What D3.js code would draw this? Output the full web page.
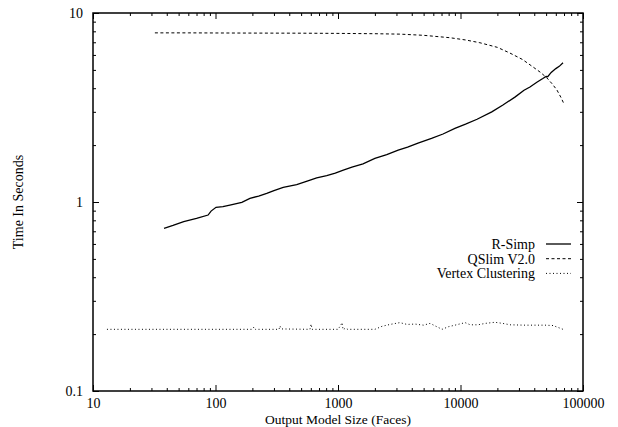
<!DOCTYPE html>
<html><head><meta charset="utf-8">
<script src="https://cdn.jsdelivr.net/npm/d3@7"></script>
<style>body{margin:0;background:#fff}svg{display:block}text{font-family:"Liberation Serif","Times New Roman",serif;}</style>
</head><body><svg id="c" width="618" height="427"></svg>
<script>
const xTicks = [10, 100, 1000, 10000, 100000];
const yTicks = [0.1, 1, 10];
const yTickLabels = ["0.1", "1", "10"];
const seriesNames = ["R-Simp", "QSlim V2.0", "Vertex Clustering"];

const rsimpX = [38, 45, 55, 70, 87, 92, 101, 115, 131, 164, 191, 225, 262, 300, 357, 460, 560, 670, 809, 950, 1105, 1300, 1600, 2000, 2500, 3100, 3700, 4500, 5800, 7200, 9000, 11000, 13650, 18000, 22200, 28000, 33000, 36900, 42000, 47000, 50000, 51500, 55000, 60000, 64000, 68700];
const rsimpY = [0.726, 0.752, 0.787, 0.818, 0.853, 0.895, 0.937, 0.945, 0.964, 0.996, 1.046, 1.075, 1.11, 1.15, 1.196, 1.235, 1.29, 1.34, 1.377, 1.42, 1.476, 1.53, 1.59, 1.70, 1.78, 1.88, 1.95, 2.05, 2.17, 2.29, 2.45, 2.58, 2.74, 3.0, 3.26, 3.6, 3.9, 4.06, 4.3, 4.5, 4.62, 4.6, 4.85, 5.08, 5.22, 5.45];

const qslimX = [32, 60, 100, 200, 490, 1000, 2000, 3200, 5000, 8200, 11000, 14400, 20000, 25300, 32000, 39100, 45000, 50800, 56000, 61300, 66000, 70000];
const qslimY = [7.85, 7.85, 7.84, 7.83, 7.82, 7.80, 7.77, 7.73, 7.62, 7.40, 7.20, 6.96, 6.58, 6.14, 5.68, 5.18, 4.85, 4.53, 4.22, 3.91, 3.58, 3.30];

const vcX = [13, 30, 60, 100, 150, 200, 206, 212, 330, 336, 345, 590, 603, 615, 1000, 1050, 1080, 1100, 1150, 1200, 2000, 2290, 2660, 3200, 3660, 4250, 5000, 5640, 7070, 8000, 9010, 10900, 12000, 13900, 16000, 19100, 22000, 25400, 33600, 49000, 56900, 68700];
const vcY = [0.212, 0.212, 0.212, 0.212, 0.212, 0.212, 0.218, 0.212, 0.212, 0.221, 0.213, 0.212, 0.226, 0.212, 0.212, 0.222, 0.230, 0.211, 0.215, 0.212, 0.212, 0.220, 0.225, 0.230, 0.225, 0.226, 0.223, 0.228, 0.212, 0.219, 0.223, 0.230, 0.224, 0.224, 0.228, 0.231, 0.228, 0.224, 0.223, 0.223, 0.222, 0.212];

const W = 618, H = 427;
const m = {left: 93, right: 583, top: 13, bottom: 391};
const svg = d3.select("#c");
const x = d3.scaleLog().domain([10, 100000]).range([m.left, m.right]);
const y = d3.scaleLog().domain([0.1, 10]).range([m.bottom, m.top]);

const minorX = [], minorY = [];
for (let d = 10; d < 100000; d *= 10) for (let k = 2; k <= 9; k++) minorX.push(d * k);
for (let d = 0.1; d < 9; d *= 10) for (let k = 2; k <= 9; k++) minorY.push(+(d * k).toPrecision(3));

const fs = 14;
function styleAxis(g) { g.select(".domain").remove(); g.selectAll("line").attr("stroke", "#000").attr("stroke-width", 1); g.selectAll("text").attr("font-size", fs).attr("fill", "#000").style("font-family", "Liberation Serif, serif"); }

// bottom
svg.append("g").attr("transform", `translate(0,${m.bottom})`).call(d3.axisBottom(x).tickValues(xTicks).tickSize(-6).tickPadding(7).tickFormat(d3.format("d"))).call(styleAxis);
svg.append("g").attr("transform", `translate(0,${m.bottom})`).call(d3.axisBottom(x).tickValues(minorX).tickSize(-3).tickFormat("")).call(styleAxis);
// top
svg.append("g").attr("transform", `translate(0,${m.top})`).call(d3.axisTop(x).tickValues(xTicks).tickSize(-6).tickFormat("")).call(styleAxis);
svg.append("g").attr("transform", `translate(0,${m.top})`).call(d3.axisTop(x).tickValues(minorX).tickSize(-3).tickFormat("")).call(styleAxis);
// left
svg.append("g").attr("transform", `translate(${m.left},0)`).call(d3.axisLeft(y).tickValues(yTicks).tickSize(-6).tickPadding(10).tickFormat((d, i) => yTickLabels[i])).call(styleAxis);
svg.append("g").attr("transform", `translate(${m.left},0)`).call(d3.axisLeft(y).tickValues(minorY).tickSize(-3).tickFormat("")).call(styleAxis);
// right
svg.append("g").attr("transform", `translate(${m.right},0)`).call(d3.axisRight(y).tickValues(yTicks).tickSize(-6).tickFormat("")).call(styleAxis);
svg.append("g").attr("transform", `translate(${m.right},0)`).call(d3.axisRight(y).tickValues(minorY).tickSize(-3).tickFormat("")).call(styleAxis);

// frame
svg.append("rect").attr("x", m.left).attr("y", m.top).attr("width", m.right - m.left).attr("height", m.bottom - m.top)
  .attr("fill", "none").attr("stroke", "#000").attr("stroke-width", 1.5);

const line = d3.line().x(d => x(d[0])).y(d => y(d[1]));
const series = [
  {xs: rsimpX, ys: rsimpY, dash: null, w: 1.3},
  {xs: qslimX, ys: qslimY, dash: "3,2.5", w: 1},
  {xs: vcX, ys: vcY, dash: "1,2.5", w: 1}
];
series.forEach(s => {
  svg.append("path").datum(s.xs.map((v, i) => [v, s.ys[i]])).attr("d", line)
    .attr("fill", "none").attr("stroke", "#000").attr("stroke-width", s.w)
    .attr("stroke-dasharray", s.dash);
});

// legend
const lg = svg.append("g");
seriesNames.forEach((n, i) => {
  const yy = 244 + i * 14.7;
  lg.append("text").attr("x", 535).attr("y", yy).attr("dy", "0.35em").attr("text-anchor", "end").attr("font-size", fs).text(n);
  lg.append("line").attr("x1", 546).attr("x2", 571).attr("y1", yy).attr("y2", yy).attr("stroke", "#000")
    .attr("stroke-width", series[i].w).attr("stroke-dasharray", series[i].dash);
});

// axis titles
svg.append("text").attr("x", (m.left + m.right) / 2).attr("y", 424).attr("text-anchor", "middle").attr("font-size", 13.5).text("Output Model Size (Faces)");
svg.append("text").attr("transform", `translate(18,${(m.top + m.bottom) / 2}) rotate(-90)`).attr("dy", "0.35em").attr("text-anchor", "middle").attr("font-size", fs).text("Time In Seconds");
</script></body></html>
